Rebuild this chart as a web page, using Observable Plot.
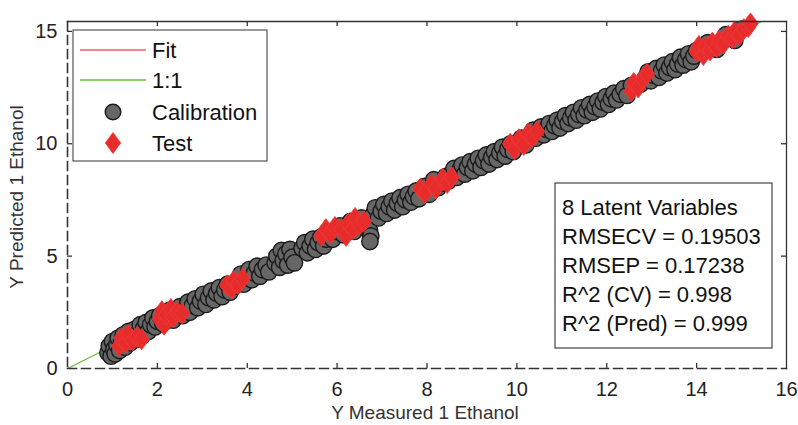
<!DOCTYPE html>
<html><head><meta charset="utf-8">
<script src="https://cdn.jsdelivr.net/npm/d3@7"></script>
<script src="https://cdn.jsdelivr.net/npm/@observablehq/plot@0.6"></script>
<style>body{margin:0;background:#fff;}#chart{width:798px;height:425px;}</style>
</head><body><div id="chart"></div>
<script>
// Calibration samples [measured, predicted]
const calibration = [
[0.9,0.7],[0.93,1.0],[0.97,0.55],[1.0,1.2],[1.03,0.85],[1.06,0.65],[1.1,1.05],[1.13,1.35],[1.16,0.8],[1.2,1.15],
[1.24,1.5],[1.28,0.95],[1.32,1.3],[1.36,1.65],[1.4,1.15],[1.45,1.5],[1.5,1.75],[1.54,1.3],[1.58,1.6],[1.62,1.95],
[1.66,1.45],[1.7,1.8],[1.75,2.05],[1.8,1.65],[1.85,1.95],[1.9,2.25],[1.95,1.85],[2.0,2.1],[2.05,2.35],
[2.12,2.0],[2.2,2.3],[2.28,2.6],[2.35,2.15],[2.42,2.45],[2.5,2.75],[2.56,2.35],[2.62,2.65],
[2.68,2.95],[2.72,2.5],[2.78,2.8],[2.84,3.1],[2.9,2.7],[2.96,3.0],[3.02,3.3],[3.08,2.85],[3.14,3.15],[3.2,3.45],
[3.26,3.05],[3.32,3.35],[3.38,3.6],[3.44,3.2],[3.5,3.5],[3.56,3.75],[3.62,3.4],[3.7,3.65],
[3.8,3.9],[3.86,4.2],[3.92,3.75],[3.98,4.05],[4.04,4.4],[4.1,3.95],[4.16,4.25],[4.22,4.55],[4.28,4.1],[4.34,4.4],[4.42,4.6],[4.48,4.3],
[4.62,4.7],[4.66,5.0],[4.72,4.5],[4.76,5.25],[4.8,4.8],[4.86,5.1],[4.9,4.6],[4.95,5.3],[5.0,4.95],[5.05,4.7],
[5.22,5.35],[5.28,5.6],[5.34,5.15],[5.4,5.45],[5.46,5.75],[5.52,5.3],[5.58,5.6],[5.64,5.85],[5.7,5.45],[5.76,5.75],[5.82,6.0],
[5.9,5.75],[5.98,6.1],[6.06,6.35],[6.14,5.95],[6.22,6.25],[6.3,6.55],[6.38,6.1],[6.46,6.45],[6.54,6.7],[6.6,6.3],
[6.68,6.45],[6.72,6.15],[6.75,5.9],[6.73,5.65],
[6.8,6.85],[6.85,7.15],[6.92,6.7],[6.98,7.0],[7.04,7.3],[7.1,6.9],[7.16,7.2],[7.22,7.45],[7.28,7.05],[7.34,7.35],
[7.4,7.6],[7.46,7.2],[7.52,7.5],[7.58,7.75],[7.64,7.4],[7.7,7.65],[7.76,7.9],[7.82,7.55],
[7.95,8.1],[8.05,7.75],[8.15,8.4],[8.25,8.05],[8.35,8.25],[8.42,8.55],
[8.48,8.35],[8.54,8.65],[8.6,8.9],[8.66,8.5],[8.72,8.8],[8.78,9.05],[8.84,8.65],[8.9,8.95],[8.96,9.2],[9.02,8.8],
[9.08,9.1],[9.14,9.35],[9.2,8.95],[9.26,9.25],[9.32,9.5],[9.38,9.1],[9.44,9.4],[9.5,9.65],[9.56,9.3],[9.62,9.6],
[9.68,9.85],[9.74,9.45],[9.8,9.75],[9.86,10.0],[9.92,9.65],[9.98,9.95],
[10.1,10.25],[10.2,9.95],[10.3,10.35],
[10.36,10.6],[10.42,10.25],[10.48,10.5],[10.54,10.75],[10.6,10.4],[10.66,10.65],[10.72,10.9],[10.78,10.55],[10.84,10.8],
[10.9,11.05],[10.96,10.7],[11.02,11.0],[11.08,11.25],[11.14,10.9],[11.2,11.15],[11.26,11.4],[11.32,11.05],[11.38,11.3],
[11.44,11.6],[11.5,11.25],[11.56,11.5],[11.62,11.75],[11.68,11.4],[11.74,11.65],[11.8,11.9],[11.86,11.55],[11.92,11.85],
[11.98,12.1],[12.04,11.75],[12.1,12.0],[12.16,12.25],[12.22,11.95],[12.3,12.2],[12.38,12.45],[12.45,12.15],
[12.55,12.6],[12.75,12.65],
[12.85,12.9],[12.92,13.2],[12.98,12.8],[13.04,13.05],[13.1,13.35],[13.16,12.95],[13.22,13.25],[13.28,13.5],[13.34,13.15],
[13.4,13.4],[13.46,13.65],[13.52,13.3],[13.58,13.55],[13.64,13.85],[13.7,13.5],[13.76,13.75],[13.82,14.0],[13.88,13.65],
[13.94,13.9],[14.0,14.15],
[14.25,14.5],[14.45,14.2],[14.65,14.85],[14.85,14.6],[15.0,15.1]
];
// Test samples [measured, predicted]
const test = [
[1.15,1.0],[1.2,1.35],[1.3,1.15],[1.35,1.5],[1.45,1.25],[1.55,1.4],[1.65,1.3],
[2.05,2.2],[2.1,2.55],[2.15,1.95],[2.2,2.4],[2.3,2.65],[2.35,2.3],[2.45,2.5],[2.55,2.45],
[3.55,3.7],[3.65,3.55],[3.7,3.9],[3.8,3.75],[3.9,4.0],
[5.65,5.9],[5.75,6.2],[5.85,6.0],[5.95,6.3],[6.1,6.2],[6.2,5.9],[6.25,6.45],[6.35,6.2],[6.4,6.7],[6.5,6.4],[6.6,6.55],
[7.85,8.0],[7.95,7.8],[8.1,8.2],[8.2,8.0],[8.35,8.45],[8.45,8.25],[8.55,8.5],
[9.85,10.0],[9.95,9.75],[10.05,10.2],[10.15,9.95],[10.25,10.45],[10.35,10.3],[10.45,10.55],
[12.55,12.35],[12.6,12.7],[12.7,12.5],[12.8,12.9],[12.9,13.1],
[14.0,14.1],[14.05,14.35],[14.15,13.95],[14.2,14.3],[14.3,14.15],[14.35,14.5],[14.45,14.3],[14.5,14.6],
[14.6,14.45],[14.7,14.8],[14.8,14.7],[14.85,15.0],[14.95,14.85],[15.05,15.1],[15.15,15.2],[15.2,15.35]
];
const oneToOne = [0, 16];
const xTicks = [0, 2, 4, 6, 8, 10, 12, 14, 16];
const xInnerTicks = [2, 4, 6, 8, 10, 12, 14];
const yTicks = [0, 5, 10, 15];
const yInnerTicks = [5, 10, 15];
const xTitle = "Y Measured 1 Ethanol";
const yTitle = "Y Predicted 1 Ethanol";
const legendLabels = ["Fit", "1:1", "Calibration", "Test"];
const statsLines = ["8 Latent Variables", "RMSECV = 0.19503", "RMSEP = 0.17238", "R^2 (CV) = 0.998", "R^2 (Pred) = 0.999"];

const FONT = "'Liberation Sans', Arial, sans-serif";
const GRAY = "#666666", GRAY_STROKE = "#1a1a1a";
const RED = "#e82b2b", RED_STROKE = "#f03a3a";
const GREEN = "#6cbf3a", FIT_RED = "#f06060";
const AXIS = "#333";
const CR = 8.2, DR = 9.4;

const W = 798, H = 425, ML = 67, MR = 12, MT = 21, MB = 57;
const FW = W - ML - MR, FH = H - MT - MB, TL = 5;

const tallDiamond = {draw(ctx, size) {
  const r = Math.sqrt(size / Math.PI), w = r * 0.82, h = r * 1.12;
  ctx.moveTo(0, -h); ctx.lineTo(w, 0); ctx.lineTo(0, h); ctx.lineTo(-w, 0); ctx.closePath();
}};

const plot = Plot.plot({
  width: W, height: H,
  marginLeft: ML, marginRight: MR, marginTop: MT, marginBottom: MB,
  style: {fontFamily: FONT, background: "#fff", overflow: "visible"},
  x: {domain: [0, 16]},
  y: {domain: [0, 15.44]},
  marks: [
    Plot.line(oneToOne.map(v => [v, v]), {x: d => d[0], y: d => d[1], stroke: GREEN, strokeWidth: 1.3, clip: true}),
    Plot.linearRegressionY(calibration.concat(test), {x: d => d[0], y: d => d[1], stroke: FIT_RED, strokeWidth: 1.2, ci: 0}),
    Plot.dot(calibration, {x: d => d[0], y: d => d[1], r: CR, fill: GRAY, stroke: GRAY_STROKE, strokeWidth: 1.4}),
    Plot.dot(test, {x: d => d[0], y: d => d[1], r: DR, symbol: tallDiamond, fill: RED, stroke: RED_STROKE, strokeWidth: 0.8}),
    Plot.frame({anchor: "top", stroke: AXIS, strokeWidth: 1.3}),
    Plot.frame({anchor: "right", stroke: AXIS, strokeWidth: 1.3}),
    Plot.frame({anchor: "bottom", stroke: AXIS, strokeWidth: 1.6, strokeDasharray: "9,5"}),
    Plot.frame({anchor: "left", stroke: AXIS, strokeWidth: 1.6, strokeDasharray: "9,5"}),
    Plot.tickX(xInnerTicks, {x: d => d, insetTop: FH - TL, stroke: AXIS, strokeWidth: 1.3}),
    Plot.tickX(xInnerTicks, {x: d => d, insetBottom: FH - TL, stroke: AXIS, strokeWidth: 1.3}),
    Plot.tickY(yInnerTicks, {y: d => d, insetRight: FW - TL, stroke: AXIS, strokeWidth: 1.3}),
    Plot.tickY(yInnerTicks, {y: d => d, insetLeft: FW - TL, stroke: AXIS, strokeWidth: 1.3}),
    Plot.axisX(xTicks, {anchor: "bottom", tickSize: 0, tickPadding: 13, fontSize: 20, fill: "#222", label: null}),
    Plot.axisY(yTicks, {anchor: "left", tickSize: 0, tickPadding: 10, fontSize: 20, fill: "#222", label: null})
  ]
});
document.getElementById("chart").appendChild(plot);

const svg = d3.select(plot);
// axis titles
svg.append("text").attr("x", 425).attr("y", 412).attr("dy", "0.35em").attr("text-anchor", "middle")
  .attr("font-family", FONT).attr("font-size", 19).attr("fill", "#333").text(xTitle);
svg.append("text").attr("transform", "translate(16,197) rotate(-90)").attr("dy", "0.35em").attr("text-anchor", "middle")
  .attr("font-family", FONT).attr("font-size", 19).attr("fill", "#333").text(yTitle);

// legend
const lg = svg.append("g");
lg.append("rect").attr("x", 73).attr("y", 30).attr("width", 194).attr("height", 131)
  .attr("fill", "#fff").attr("stroke", "#555").attr("stroke-width", 1.2);
const rowsY = [50, 80, 112, 143];
lg.append("line").attr("x1", 80).attr("x2", 146).attr("y1", rowsY[0]).attr("y2", rowsY[0]).attr("stroke", FIT_RED).attr("stroke-width", 1.3);
lg.append("line").attr("x1", 80).attr("x2", 146).attr("y1", rowsY[1]).attr("y2", rowsY[1]).attr("stroke", GREEN).attr("stroke-width", 1.3);
lg.append("circle").attr("cx", 113).attr("cy", rowsY[2]).attr("r", 7.8).attr("fill", GRAY).attr("stroke", GRAY_STROKE).attr("stroke-width", 1.4);
lg.append("path").attr("transform", `translate(113,${rowsY[3]})`).attr("d", d3.symbol(tallDiamond, Math.PI * DR * DR)()).attr("fill", RED).attr("stroke", RED_STROKE).attr("stroke-width", 0.8);
legendLabels.forEach((t, i) => {
  lg.append("text").attr("x", 152).attr("y", rowsY[i]).attr("dy", "0.36em").attr("text-anchor", "start")
    .attr("font-family", FONT).attr("font-size", 22).attr("fill", "#111").text(t);
});

// stats box
const sb = svg.append("g");
sb.append("rect").attr("x", 555).attr("y", 183).attr("width", 217).attr("height", 165)
  .attr("fill", "#fff").attr("stroke", "#444").attr("stroke-width", 1.2);
const statY = [207, 236, 265, 294, 323];
statsLines.forEach((t, i) => {
  sb.append("text").attr("x", 562).attr("y", statY[i]).attr("dy", "0.36em").attr("text-anchor", "start")
    .attr("font-family", FONT).attr("font-size", 22).attr("fill", "#111").text(t);
});
</script>
</body></html>
